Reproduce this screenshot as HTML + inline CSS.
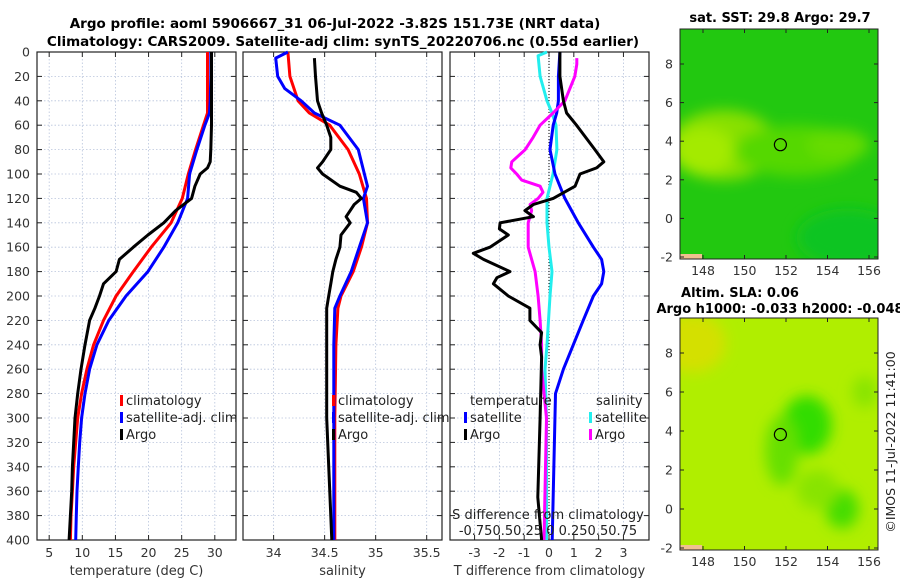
<!DOCTYPE html>
<html><head><meta charset="utf-8"><style>
body{margin:0;background:#fff;width:900px;height:580px;overflow:hidden}
svg{font-family:"DejaVu Sans","Liberation Sans",sans-serif}
</style></head><body>
<svg id="c" width="900" height="580" viewBox="0 0 900 580">
<defs><filter id="bl" x="-50%" y="-50%" width="200%" height="200%"><feGaussianBlur stdDeviation="7"/></filter>
<clipPath id="clip1"><rect x="680" y="29" width="198" height="230"/></clipPath>
<clipPath id="clip2"><rect x="680" y="318" width="198" height="232"/></clipPath></defs>
<text x="335" y="28" text-anchor="middle" font-size="13.5" font-weight="bold">Argo profile: aoml 5906667_31 06-Jul-2022 -3.82S 151.73E (NRT data)</text>
<text x="343" y="46" text-anchor="middle" font-size="13.5" font-weight="bold">Climatology: CARS2009. Satellite-adj clim: synTS_20220706.nc (0.55d earlier)</text>
<text x="780" y="22" text-anchor="middle" font-size="13" font-weight="bold">sat. SST: 29.8 Argo: 29.7</text>
<text x="740" y="297" text-anchor="middle" font-size="13" font-weight="bold">Altim. SLA: 0.06</text>
<text x="780" y="313" text-anchor="middle" font-size="13" font-weight="bold">Argo h1000: -0.033 h2000: -0.048</text>
<text transform="translate(895,442) rotate(-90)" text-anchor="middle" font-size="12.5" fill="#222">©IMOS 11-Jul-2022 11:41:00</text>
</svg>
<script>
const depths=[0,20,40,50,60,80,100,120,140,160,180,200,220,240,260,280,300,320,340,360,380,400];
const tClim=[28.9,28.9,28.9,28.9,28.3,27.1,26.0,25.1,23.4,20.4,17.7,15.1,13.2,11.7,10.7,9.9,9.3,9.0,8.7,8.5,8.3,8.2];
const tSat=[29.4,29.4,29.3,29.2,28.5,27.3,26.2,25.9,24.4,22.3,19.9,16.6,14.0,12.2,11.1,10.4,9.9,9.6,9.4,9.2,9.1,9.0];
const argoDepths=[0,60,80,90,95,100,110,120,130,140,150,160,170,180,190,200,210,220,240,260,280,300,320,340,360,380,400];
const tArgo=[29.5,29.5,29.4,29.3,28.9,27.8,27.0,26.5,24.1,22.3,19.9,17.7,15.6,15.1,13.2,12.6,11.9,11.1,10.4,9.8,9.3,8.9,8.7,8.5,8.4,8.2,8.0];
const sClimDepths=[0,20,40,50,60,80,100,120,140,160,180,200,210,240,300,400];
const sClim=[34.14,34.16,34.24,34.35,34.55,34.73,34.84,34.91,34.92,34.86,34.78,34.66,34.63,34.61,34.6,34.6];
const sSatDepths=[0,5,20,30,40,50,60,80,100,110,120,140,160,180,200,210,240,300,400];
const sSat=[34.14,34.02,34.04,34.11,34.27,34.4,34.65,34.83,34.89,34.92,34.88,34.92,34.84,34.76,34.65,34.6,34.59,34.59,34.59];
const sArgoDepths=[5,20,40,50,60,70,80,90,95,100,110,115,120,125,130,135,140,150,160,170,180,190,200,210,300,400];
const sArgo=[34.40,34.41,34.43,34.47,34.52,34.56,34.56,34.48,34.43,34.48,34.65,34.81,34.86,34.79,34.75,34.71,34.75,34.66,34.65,34.61,34.58,34.56,34.54,34.52,34.52,34.57];
const dTArgoDepths=[0,20,40,50,60,80,90,95,100,110,120,125,130,135,140,145,150,160,165,170,180,185,190,200,210,220,230,240,250,300,365,400];
const dTArgo=[0.44,0.44,0.58,0.71,1.11,1.85,2.21,1.92,1.25,1.05,0.17,-0.63,-0.97,-0.63,-1.97,-2.0,-1.64,-2.38,-3.05,-2.64,-1.57,-2.1,-2.24,-1.64,-0.77,-0.77,-0.3,-0.36,-0.3,-0.36,-0.45,-0.3];
const dTSatDepths=[0,20,40,50,60,80,100,110,120,130,140,160,170,180,190,200,220,240,260,280,400];
const dTSat=[0.44,0.38,0.38,0.31,0.17,0.04,0.24,0.44,0.64,0.91,1.18,1.79,2.12,2.21,2.12,1.79,1.38,0.98,0.58,0.26,0.13];
const dSSatDepths=[0,3,20,40,50,60,80,100,120,140,160,180,200,240,260,300,400];
const dSSat=[-0.02,-0.11,-0.09,-0.02,0.03,0.07,0.08,0.04,-0.02,-0.02,0,0.03,0.01,-0.02,-0.04,-0.025,-0.025];
const dSArgoDepths=[5,10,20,40,50,60,70,80,90,95,100,105,110,115,120,125,130,140,160,180,200,220,240,260,300,400];
const dSArgo=[0.28,0.28,0.26,0.16,0.04,-0.09,-0.16,-0.24,-0.375,-0.385,-0.325,-0.275,-0.09,-0.06,-0.11,-0.19,-0.175,-0.21,-0.21,-0.14,-0.11,-0.09,-0.075,-0.075,-0.025,-0.05];
const tTicks=[5,10,15,20,25,30], sTicks=[34,34.5,35,35.5], dTicks=[-3,-2,-1,0,1,2,3];
const depthTicks=[0,20,40,60,80,100,120,140,160,180,200,220,240,260,280,300,320,340,360,380,400];
const mapLonTicks=[148,150,152,154,156], mapLatTicks=[-2,0,2,4,6,8];

const NS='http://www.w3.org/2000/svg', svg=document.getElementById('c');
function el(t,a,p){const e=document.createElementNS(NS,t);for(const k in a)e.setAttribute(k,a[k]);(p||svg).appendChild(e);return e;}
const yTop=52,yBot=540;
const yD=d=>yTop+(d/400)*(yBot-yTop);
function panel(name,x0,x1,vmin,vmax,ticks,label){
  const g=el('g',{});
  
  
  const xs=v=>x0+(v-vmin)/(vmax-vmin)*(x1-x0);
  ticks.forEach(v=>{const l=el('line',{x1:xs(v),x2:xs(v),y1:yTop,y2:yBot,stroke:'#b8c4dc','stroke-width':0.8,'stroke-dasharray':'1.5,2'},g);
    
    el('line',{x1:xs(v),x2:xs(v),y1:yBot,y2:yBot-5,stroke:'#222'},g);el('line',{x1:xs(v),x2:xs(v),y1:yTop,y2:yTop+5,stroke:'#222'},g);
    const t=el('text',{x:xs(v),y:yBot+17,'text-anchor':'middle','font-size':12.5,fill:'#333'},g);t.textContent=v;
    });
  depthTicks.forEach(d=>{if(d>0&&d<400)el('line',{x1:x0,x2:x1,y1:yD(d),y2:yD(d),stroke:'#b8c4dc','stroke-width':0.8,'stroke-dasharray':'1.5,2'},g);
    el('line',{x1:x0,x2:x0+5,y1:yD(d),y2:yD(d),stroke:'#222'},g);el('line',{x1:x1,x2:x1-5,y1:yD(d),y2:yD(d),stroke:'#222'},g);});
  el('rect',{x:x0,y:yTop,width:x1-x0,height:yBot-yTop,fill:'none',stroke:'#222','stroke-width':1.2},g);
  if(label){const t=el('text',{x:(x0+x1)/2,y:yBot+35,'text-anchor':'middle','font-size':13,fill:'#333'},g);t.textContent=label;
    }
  return {xs,g};
}
function line(p,vals,ds,color,name){
  const pts=vals.map((v,i)=>p.xs(v).toFixed(1)+','+yD(ds[i]).toFixed(1)).join(' ');
  const l=el('polyline',{points:pts,fill:'none',stroke:color,'stroke-width':3,'stroke-linejoin':'round'},p.g);
  
}
depthTicks.forEach(d=>{const t=el('text',{x:30,y:yD(d)+4.5,'text-anchor':'end','font-size':12.5,fill:'#333'});t.textContent=d;
  });
const p1=panel('temperature-panel',37,236,3.16,33.2,tTicks,'temperature (deg C)');
line(p1,tClim,depths,'#f00','temperature-climatology-line');
line(p1,tSat,depths,'#00f','temperature-satellite-line');
line(p1,tArgo,argoDepths,'#000','temperature-argo-line');
const p2=panel('salinity-panel',243,442,33.70,35.65,sTicks,'salinity');
line(p2,sClim,sClimDepths,'#f00','salinity-climatology-line');
line(p2,sSat,sSatDepths,'#00f','salinity-satellite-line');
line(p2,sArgo,sArgoDepths,'#000','salinity-argo-line');
const p3=panel('difference-panel',450,649,-3.99,4.03,dTicks,'T difference from climatology');
el('line',{x1:p3.xs(0),x2:p3.xs(0),y1:yTop,y2:yBot,stroke:'#000','stroke-width':1,'stroke-dasharray':'1,2'},p3.g);
line(p3,dSSat.map(v=>v*4),dSSatDepths,'#2ee','salinity-satellite-diff-line');
line(p3,dTSat,dTSatDepths,'#00f','temperature-satellite-diff-line');
line(p3,dSArgo.map(v=>v*4),dSArgoDepths,'#f0f','salinity-argo-diff-line');
line(p3,dTArgo,dTArgoDepths,'#000','temperature-argo-diff-line');
function leg(x,y,c,txt,g,name){el('rect',{x:x,y:y-10,width:3,height:11,fill:c},g);const t=el('text',{x:x+6,y:y,'font-size':13,fill:'#222'},g);t.textContent=txt;
  }
[['#f00','climatology'],['#00f','satellite-adj. clim'],['#000','Argo']].forEach((e,i)=>{
  leg(120,405+i*17,e[0],e[1],p1.g,'legend-entry');leg(332,405+i*17,e[0],e[1],p2.g,'legend-entry');});
let t=el('text',{x:470,y:405,'font-size':13,fill:'#222'},p3.g);t.textContent='temperature';
t=el('text',{x:596,y:405,'font-size':13,fill:'#222'},p3.g);t.textContent='salinity';
leg(464,422,'#00f','satellite',p3.g,'legend-entry');leg(464,439,'#000','Argo',p3.g,'legend-entry');
leg(589,422,'#2ee','satellite',p3.g,'legend-entry');leg(589,439,'#f0f','Argo',p3.g,'legend-entry');
t=el('text',{x:548,y:519,'text-anchor':'middle','font-size':13,fill:'#222'},p3.g);t.textContent='S difference from climatology';
t=el('text',{x:548,y:535,'text-anchor':'middle','font-size':13,fill:'#222'},p3.g);t.textContent='-0.750.50.25 0  0.250.50.75';
function map(name,clip,y0,y1,lat8,latm2,base,blobs){
  const g=el('g',{});
  
  
  const x0=680,x1=878,lon=v=>703+(v-148)*20.75,lat=v=>latm2+(v+2)*(lat8-latm2)/10;
  const cg=el('g',{'clip-path':'url(#'+clip+')'},g);
  el('rect',{x:x0,y:y0,width:x1-x0,height:y1-y0,fill:base},cg);
  const bg=el('g',{filter:'url(#bl)'},cg);
  blobs.forEach(b=>el('ellipse',{cx:lon(b[0]),cy:lat(b[1]),rx:b[2]*20.75,ry:b[3]*19.5,fill:b[4]},bg));
  el('rect',{x:x0,y:y1-5,width:22,height:5,fill:'#f0c090'},cg);
  el('circle',{cx:lon(151.73),cy:lat(3.82),r:6,fill:'none',stroke:'#000','stroke-width':1.2},g);
  el('rect',{x:x0,y:y0,width:x1-x0,height:y1-y0,fill:'none',stroke:'#222','stroke-width':1},g);
  mapLonTicks.forEach(v=>{el('line',{x1:lon(v),x2:lon(v),y1:y1,y2:y1-4,stroke:'#222'},g);el('line',{x1:lon(v),x2:lon(v),y1:y0,y2:y0+4,stroke:'#222'},g);
    const t=el('text',{x:lon(v),y:y1+16,'text-anchor':'middle','font-size':12.5,fill:'#333'},g);t.textContent=v;
    });
  mapLatTicks.forEach(v=>{el('line',{x1:x0,x2:x0+4,y1:lat(v),y2:lat(v),stroke:'#222'},g);el('line',{x1:x1,x2:x1-4,y1:lat(v),y2:lat(v),stroke:'#222'},g);
    const t=el('text',{x:x0-7,y:lat(v)+4.5,'text-anchor':'end','font-size':12.5,fill:'#333'},g);t.textContent=v;
    });
}
map('sst-map','clip1',29,259,64,257,'#22c810',[[149,3.8,2.6,1.8,'#88e000'],[148,3.5,1.5,1.2,'#a4ea00'],[152.5,3.5,3,1.3,'#55d800'],[154.5,3.8,1.5,0.8,'#66dc00'],[155,-1,2.5,1.5,'#10c420']]);
map('sla-map','clip2',318,550,353,548,'#b0ee00',[[147.5,8.5,1.6,1.5,'#d4e000'],[153,4.3,1.2,1.5,'#33dd00'],[151.8,3,0.8,1.8,'#66e000'],[154.7,0,0.8,1,'#44dd00'],[155.8,6,0.6,0.8,'#88e400'],[153.5,1,1,1,'#88e400']]);
</script>
</body></html>
